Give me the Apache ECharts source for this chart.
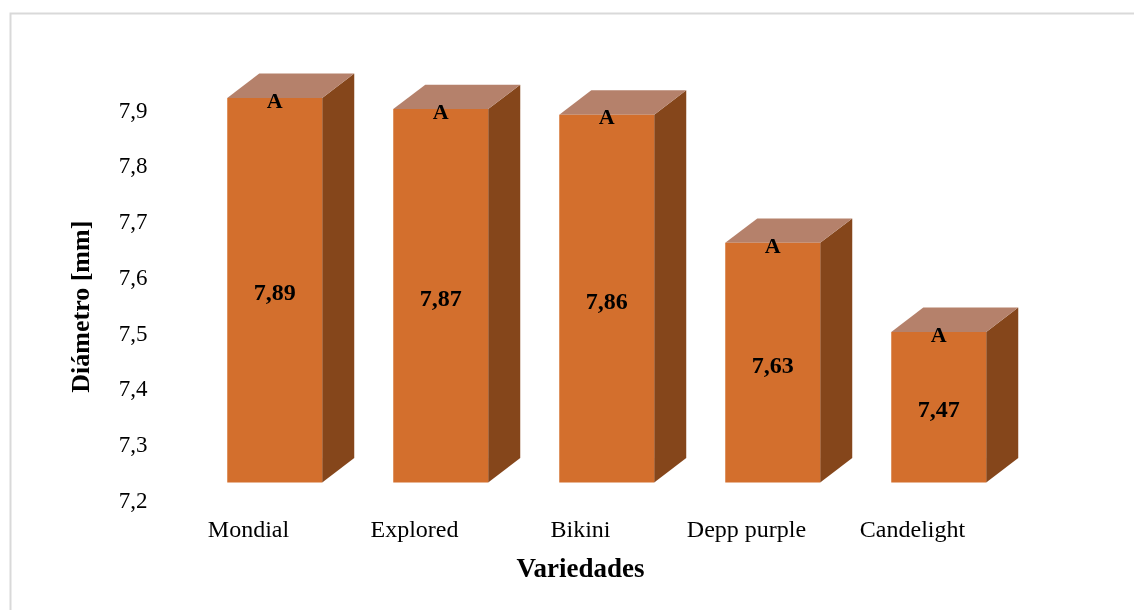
<!DOCTYPE html>
<html>
<head>
<meta charset="utf-8">
<style>
  html, body { margin: 0; padding: 0; background: #ffffff; }
  #chart { width: 1134px; height: 610px; }
</style>
<script src="https://cdn.jsdelivr.net/npm/echarts@6/dist/echarts.min.js"></script>
</head>
<body>
<div id="chart"></div>
<script>
// ---- Data ----
const categories = ['Mondial', 'Explored', 'Bikini', 'Depp purple', 'Candelight'];
const diameters = [7.89, 7.87, 7.86, 7.63, 7.47];
const groupLetters = ['A', 'A', 'A', 'A', 'A'];
const yMin = 7.2;
const yMax = 7.9;
const yStep = 0.1;

// ---- Styles ----
const FONT = "'Liberation Serif', 'Times New Roman', serif";
const FRONT = '#D36F2D';
const SIDE = '#85461B';
const TOP = '#B5816B';

const chart = echarts.init(document.getElementById('chart'), null, { renderer: 'canvas' });

const seriesData = diameters.map((v, i) => [i, v, groupLetters[i]]);

function renderBar(params, api) {
  const i = api.value(0);
  const v = api.value(1);
  const letter = groupLetters[i];
  const band = api.size([1, 0])[0];
  const c = api.coord([i, v]);
  const b = api.coord([i, yMin]);
  const lift = 19.3;              // front face raised above the back-wall scale
  const w = band * 0.572;         // front face width
  const x0 = c[0] - band * 0.128; // front face left
  const dx = band * 0.193;        // depth offset x
  const dy = band * 0.147;        // depth offset y
  const yt = c[1] - lift;
  const yb = b[1] - lift;
  const x1 = x0 + w;
  const label = v.toFixed(2).replace('.', ',');
  return {
    type: 'group',
    children: [
      {
        type: 'polygon',
        shape: { points: [[x1, yt], [x1 + dx, yt - dy], [x1 + dx, yb - dy], [x1, yb]] },
        style: { fill: SIDE }
      },
      {
        type: 'polygon',
        shape: { points: [[x0, yt], [x0 + dx, yt - dy], [x1 + dx, yt - dy], [x1, yt]] },
        style: { fill: TOP }
      },
      {
        type: 'rect',
        shape: { x: x0, y: yt, width: w, height: yb - yt },
        style: { fill: FRONT }
      },
      {
        type: 'text',
        style: {
          text: label, x: x0 + w / 2, y: (yt + yb) / 2 + 4,
          align: 'center', verticalAlign: 'middle',
          font: 'bold 24px ' + FONT, fill: '#000000'
        }
      },
      {
        type: 'text',
        style: {
          text: letter, x: x0 + w / 2, y: yt + 4,
          align: 'center', verticalAlign: 'middle',
          font: 'bold 22px ' + FONT, fill: '#000000'
        }
      }
    ]
  };
}

const option = {
  backgroundColor: '#ffffff',
  animation: false,
  graphic: [
    {
      type: 'polyline',
      shape: { points: [[10.5, 612], [10.5, 13.5], [1136, 13.5]] },
      style: { stroke: '#d9d9d9', lineWidth: 2, fill: null }
    }
  ],
  grid: { left: 165.5, top: 111.7, width: 830, height: 390 },
  xAxis: {
    type: 'category',
    data: categories,
    axisLine: { show: false },
    axisTick: { show: false },
    splitLine: { show: false },
    axisLabel: { margin: 17, fontFamily: FONT, fontSize: 24, color: '#000000' },
    name: 'Variedades',
    nameLocation: 'middle',
    nameGap: 55,
    nameTextStyle: { fontFamily: FONT, fontSize: 27, fontWeight: 'bold', color: '#000000' }
  },
  yAxis: {
    type: 'value',
    min: yMin,
    max: yMax,
    interval: yStep,
    axisLine: { show: false },
    axisTick: { show: false },
    splitLine: { show: false },
    axisLabel: {
      margin: 18,
      fontFamily: FONT, fontSize: 23, color: '#000000',
      formatter: (val) => val.toFixed(1).replace('.', ',')
    },
    name: 'Diámetro [mm]',
    nameLocation: 'middle',
    nameGap: 70,
    nameRotate: 90,
    nameTextStyle: { fontFamily: FONT, fontSize: 26, fontWeight: 'bold', color: '#000000' }
  },
  series: [
    {
      type: 'custom',
      renderItem: renderBar,
      data: seriesData,
      encode: { x: 0, y: 1 },
      clip: false
    }
  ]
};

chart.setOption(option);
</script>
</body>
</html>
